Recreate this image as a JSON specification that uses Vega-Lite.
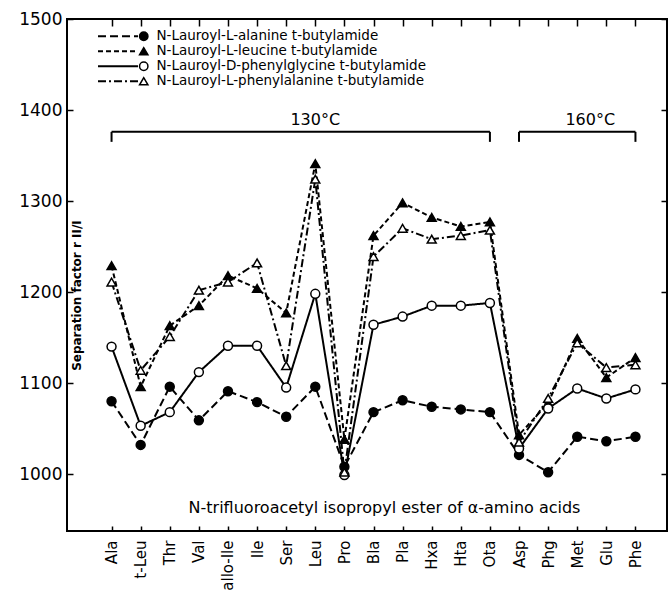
{
  "$schema": "https://vega.github.io/schema/vega-lite/v6.json",
  "width": 600,
  "height": 512,
  "autosize": {"type": "none"},
  "padding": {"left": 67, "top": 19, "right": 2, "bottom": 68},
  "background": "white",
  "config": {
    "view": {"stroke": "black", "strokeWidth": 2},
    "font": "DejaVu Sans",
    "axis": {"labelColor": "black", "titleColor": "black", "tickColor": "black", "labelFont": "DejaVu Sans", "titleFont": "DejaVu Sans"},
    "legend": {"labelColor": "black", "labelFont": "DejaVu Sans"}
  },
  "datasets": {
    "sep": [
      {"aa": "Ala", "series": "N-Lauroyl-L-alanine t-butylamide", "r": 1080},
      {"aa": "t-Leu", "series": "N-Lauroyl-L-alanine t-butylamide", "r": 1032},
      {"aa": "Thr", "series": "N-Lauroyl-L-alanine t-butylamide", "r": 1096},
      {"aa": "Val", "series": "N-Lauroyl-L-alanine t-butylamide", "r": 1059},
      {"aa": "allo-Ile", "series": "N-Lauroyl-L-alanine t-butylamide", "r": 1091},
      {"aa": "Ile", "series": "N-Lauroyl-L-alanine t-butylamide", "r": 1079},
      {"aa": "Ser", "series": "N-Lauroyl-L-alanine t-butylamide", "r": 1063},
      {"aa": "Leu", "series": "N-Lauroyl-L-alanine t-butylamide", "r": 1096},
      {"aa": "Pro", "series": "N-Lauroyl-L-alanine t-butylamide", "r": 1008},
      {"aa": "Bla", "series": "N-Lauroyl-L-alanine t-butylamide", "r": 1068},
      {"aa": "Pla", "series": "N-Lauroyl-L-alanine t-butylamide", "r": 1081},
      {"aa": "Hxa", "series": "N-Lauroyl-L-alanine t-butylamide", "r": 1074},
      {"aa": "Hta", "series": "N-Lauroyl-L-alanine t-butylamide", "r": 1071},
      {"aa": "Ota", "series": "N-Lauroyl-L-alanine t-butylamide", "r": 1068},
      {"aa": "Asp", "series": "N-Lauroyl-L-alanine t-butylamide", "r": 1021},
      {"aa": "Phg", "series": "N-Lauroyl-L-alanine t-butylamide", "r": 1002},
      {"aa": "Met", "series": "N-Lauroyl-L-alanine t-butylamide", "r": 1041},
      {"aa": "Glu", "series": "N-Lauroyl-L-alanine t-butylamide", "r": 1036},
      {"aa": "Phe", "series": "N-Lauroyl-L-alanine t-butylamide", "r": 1041},

      {"aa": "Ala", "series": "N-Lauroyl-L-leucine t-butylamide", "r": 1229},
      {"aa": "t-Leu", "series": "N-Lauroyl-L-leucine t-butylamide", "r": 1096},
      {"aa": "Thr", "series": "N-Lauroyl-L-leucine t-butylamide", "r": 1163},
      {"aa": "Val", "series": "N-Lauroyl-L-leucine t-butylamide", "r": 1185},
      {"aa": "allo-Ile", "series": "N-Lauroyl-L-leucine t-butylamide", "r": 1218},
      {"aa": "Ile", "series": "N-Lauroyl-L-leucine t-butylamide", "r": 1204},
      {"aa": "Ser", "series": "N-Lauroyl-L-leucine t-butylamide", "r": 1177},
      {"aa": "Leu", "series": "N-Lauroyl-L-leucine t-butylamide", "r": 1341},
      {"aa": "Pro", "series": "N-Lauroyl-L-leucine t-butylamide", "r": 1038},
      {"aa": "Bla", "series": "N-Lauroyl-L-leucine t-butylamide", "r": 1262},
      {"aa": "Pla", "series": "N-Lauroyl-L-leucine t-butylamide", "r": 1298},
      {"aa": "Hxa", "series": "N-Lauroyl-L-leucine t-butylamide", "r": 1282},
      {"aa": "Hta", "series": "N-Lauroyl-L-leucine t-butylamide", "r": 1272},
      {"aa": "Ota", "series": "N-Lauroyl-L-leucine t-butylamide", "r": 1277},
      {"aa": "Asp", "series": "N-Lauroyl-L-leucine t-butylamide", "r": 1043},
      {"aa": "Phg", "series": "N-Lauroyl-L-leucine t-butylamide", "r": 1078},
      {"aa": "Met", "series": "N-Lauroyl-L-leucine t-butylamide", "r": 1149},
      {"aa": "Glu", "series": "N-Lauroyl-L-leucine t-butylamide", "r": 1106},
      {"aa": "Phe", "series": "N-Lauroyl-L-leucine t-butylamide", "r": 1128},

      {"aa": "Ala", "series": "N-Lauroyl-D-phenylglycine t-butylamide", "r": 1140},
      {"aa": "t-Leu", "series": "N-Lauroyl-D-phenylglycine t-butylamide", "r": 1053},
      {"aa": "Thr", "series": "N-Lauroyl-D-phenylglycine t-butylamide", "r": 1068},
      {"aa": "Val", "series": "N-Lauroyl-D-phenylglycine t-butylamide", "r": 1112},
      {"aa": "allo-Ile", "series": "N-Lauroyl-D-phenylglycine t-butylamide", "r": 1141},
      {"aa": "Ile", "series": "N-Lauroyl-D-phenylglycine t-butylamide", "r": 1141},
      {"aa": "Ser", "series": "N-Lauroyl-D-phenylglycine t-butylamide", "r": 1095},
      {"aa": "Leu", "series": "N-Lauroyl-D-phenylglycine t-butylamide", "r": 1198},
      {"aa": "Pro", "series": "N-Lauroyl-D-phenylglycine t-butylamide", "r": 999},
      {"aa": "Bla", "series": "N-Lauroyl-D-phenylglycine t-butylamide", "r": 1164},
      {"aa": "Pla", "series": "N-Lauroyl-D-phenylglycine t-butylamide", "r": 1173},
      {"aa": "Hxa", "series": "N-Lauroyl-D-phenylglycine t-butylamide", "r": 1185},
      {"aa": "Hta", "series": "N-Lauroyl-D-phenylglycine t-butylamide", "r": 1185},
      {"aa": "Ota", "series": "N-Lauroyl-D-phenylglycine t-butylamide", "r": 1188},
      {"aa": "Asp", "series": "N-Lauroyl-D-phenylglycine t-butylamide", "r": 1028},
      {"aa": "Phg", "series": "N-Lauroyl-D-phenylglycine t-butylamide", "r": 1072},
      {"aa": "Met", "series": "N-Lauroyl-D-phenylglycine t-butylamide", "r": 1094},
      {"aa": "Glu", "series": "N-Lauroyl-D-phenylglycine t-butylamide", "r": 1083},
      {"aa": "Phe", "series": "N-Lauroyl-D-phenylglycine t-butylamide", "r": 1093},

      {"aa": "Ala", "series": "N-Lauroyl-L-phenylalanine t-butylamide", "r": 1211},
      {"aa": "t-Leu", "series": "N-Lauroyl-L-phenylalanine t-butylamide", "r": 1114},
      {"aa": "Thr", "series": "N-Lauroyl-L-phenylalanine t-butylamide", "r": 1151},
      {"aa": "Val", "series": "N-Lauroyl-L-phenylalanine t-butylamide", "r": 1202},
      {"aa": "allo-Ile", "series": "N-Lauroyl-L-phenylalanine t-butylamide", "r": 1211},
      {"aa": "Ile", "series": "N-Lauroyl-L-phenylalanine t-butylamide", "r": 1232},
      {"aa": "Ser", "series": "N-Lauroyl-L-phenylalanine t-butylamide", "r": 1119},
      {"aa": "Leu", "series": "N-Lauroyl-L-phenylalanine t-butylamide", "r": 1324},
      {"aa": "Pro", "series": "N-Lauroyl-L-phenylalanine t-butylamide", "r": 1002},
      {"aa": "Bla", "series": "N-Lauroyl-L-phenylalanine t-butylamide", "r": 1239},
      {"aa": "Pla", "series": "N-Lauroyl-L-phenylalanine t-butylamide", "r": 1270},
      {"aa": "Hxa", "series": "N-Lauroyl-L-phenylalanine t-butylamide", "r": 1258},
      {"aa": "Hta", "series": "N-Lauroyl-L-phenylalanine t-butylamide", "r": 1262},
      {"aa": "Ota", "series": "N-Lauroyl-L-phenylalanine t-butylamide", "r": 1268},
      {"aa": "Asp", "series": "N-Lauroyl-L-phenylalanine t-butylamide", "r": 1035},
      {"aa": "Phg", "series": "N-Lauroyl-L-phenylalanine t-butylamide", "r": 1083},
      {"aa": "Met", "series": "N-Lauroyl-L-phenylalanine t-butylamide", "r": 1144},
      {"aa": "Glu", "series": "N-Lauroyl-L-phenylalanine t-butylamide", "r": 1117},
      {"aa": "Phe", "series": "N-Lauroyl-L-phenylalanine t-butylamide", "r": 1120}
    ]
  },
  "layer": [
    {
      "data": {"name": "sep"},
      "mark": {"type": "line", "stroke": "black", "strokeWidth": 2},
      "encoding": {
        "x": {
          "field": "aa", "type": "nominal",
          "scale": {"type": "point", "domain": ["Ala", "t-Leu", "Thr", "Val", "allo-Ile", "Ile", "Ser", "Leu", "Pro", "Bla", "Pla", "Hxa", "Hta", "Ota", "Asp", "Phg", "Met", "Glu", "Phe"], "range": [30, 583]},
          "axis": {
            "orient": "bottom", "domain": false, "grid": false,
            "labelAngle": 270, "labelFontSize": 15, "labelPadding": 14,
            "tickSize": -5, "tickWidth": 1.5,
            "title": "N-trifluoroacetyl isopropyl ester of α-amino acids",
            "titleX": 317, "titleY": -24, "titleAlign": "center", "titleBaseline": "middle",
            "titleFontSize": 16, "titleFontWeight": "normal", "titleAngle": 0
          }
        },
        "y": {
          "field": "r", "type": "quantitative",
          "scale": {"domain": [937.4, 1500], "nice": false, "zero": false},
          "axis": {
            "orient": "left", "values": [1000, 1100, 1200, 1300, 1400, 1500], "format": "d",
            "domain": false, "grid": false, "labelFontSize": 17, "labelPadding": 11,
            "tickSize": -6, "tickWidth": 1.5,
            "title": "Separation factor r II/I", "titleX": 4, "titleY": 276, "titleAngle": 270,
            "titleAlign": "center", "titleBaseline": "top", "titleFontSize": 12, "titleFontWeight": "bold"
          }
        },
        "detail": {"field": "series"},
        "strokeDash": {
          "field": "series", "type": "nominal",
          "sort": ["N-Lauroyl-L-alanine t-butylamide", "N-Lauroyl-L-leucine t-butylamide", "N-Lauroyl-D-phenylglycine t-butylamide", "N-Lauroyl-L-phenylalanine t-butylamide"],
          "scale": {"range": [[8, 4], [5, 3], [1, 0], [8, 3, 2, 3]]},
          "legend": {
            "orient": "none", "legendX": 30, "legendY": 10, "title": null, "padding": 0,
            "symbolType": "stroke", "symbolSize": 1600, "symbolStrokeWidth": 1.8, "symbolStrokeColor": "black",
            "clipHeight": 14.5, "rowPadding": 0, "labelExpr": "''"
          }
        }
      }
    },
    {
      "data": {"name": "sep"},
      "mark": {"type": "point", "filled": true, "size": 80, "strokeWidth": 1.5, "opacity": 1},
      "encoding": {
        "x": {"field": "aa", "type": "nominal", "axis": {"orient": "top", "labels": false, "title": null, "domain": false, "tickSize": -7, "tickWidth": 1.5}},
        "y": {"field": "r", "type": "quantitative", "axis": {"orient": "right", "labels": false, "title": null, "domain": false, "grid": false, "values": [1000, 1100, 1200, 1300, 1400, 1500], "tickSize": -6, "tickWidth": 1.5}},
        "shape": {
          "field": "series", "type": "nominal",
          "scale": {"domain": ["N-Lauroyl-L-alanine t-butylamide", "N-Lauroyl-L-leucine t-butylamide", "N-Lauroyl-D-phenylglycine t-butylamide", "N-Lauroyl-L-phenylalanine t-butylamide"], "range": ["circle", "triangle-up", "circle", "triangle-up"]},
          "legend": {
            "orient": "none", "legendX": 70, "legendY": 10, "title": null, "padding": 0,
            "symbolSize": 70, "symbolStrokeWidth": 1.5,
            "clipHeight": 14.5, "rowPadding": 0, "labelFontSize": 13.5, "labelLimit": 500, "labelOffset": 6
          }
        },
        "fill": {
          "field": "series", "type": "nominal",
          "scale": {"domain": ["N-Lauroyl-L-alanine t-butylamide", "N-Lauroyl-L-leucine t-butylamide", "N-Lauroyl-D-phenylglycine t-butylamide", "N-Lauroyl-L-phenylalanine t-butylamide"], "range": ["black", "black", "white", "white"]},
          "legend": {
            "orient": "none", "legendX": 70, "legendY": 10, "title": null, "padding": 0,
            "symbolSize": 70, "symbolStrokeWidth": 1.5,
            "clipHeight": 14.5, "rowPadding": 0, "labelFontSize": 13.5, "labelLimit": 500, "labelOffset": 6
          }
        },
        "stroke": {
          "field": "series", "type": "nominal",
          "scale": {"domain": ["N-Lauroyl-L-alanine t-butylamide", "N-Lauroyl-L-leucine t-butylamide", "N-Lauroyl-D-phenylglycine t-butylamide", "N-Lauroyl-L-phenylalanine t-butylamide"], "range": ["black", "black", "black", "black"]},
          "legend": {
            "orient": "none", "legendX": 70, "legendY": 10, "title": null, "padding": 0,
            "symbolSize": 70, "symbolStrokeWidth": 1.5,
            "clipHeight": 14.5, "rowPadding": 0, "labelFontSize": 13.5, "labelLimit": 500, "labelOffset": 6
          }
        }
      }
    },
    {
      "data": {"values": [{"from": "Ala", "to": "Ota"}, {"from": "Asp", "to": "Phe"}]},
      "mark": {"type": "rule", "stroke": "black", "strokeWidth": 2},
      "encoding": {
        "x": {"field": "from", "type": "nominal", "axis": null},
        "x2": {"field": "to"},
        "y": {"datum": 1376, "axis": null}
      }
    },
    {
      "data": {"values": [{"at": "Ala"}, {"at": "Ota"}, {"at": "Asp"}, {"at": "Phe"}]},
      "mark": {"type": "rule", "stroke": "black", "strokeWidth": 2},
      "encoding": {
        "x": {"field": "at", "type": "nominal", "axis": null},
        "y": {"datum": 1376, "axis": null},
        "y2": {"datum": 1365}
      }
    },
    {
      "data": {"values": [{"label": "130°C", "at": "Leu"}]},
      "mark": {"type": "text", "fontSize": 16, "color": "black", "baseline": "middle", "align": "center"},
      "encoding": {
        "x": {"field": "at", "type": "nominal", "axis": null},
        "y": {"datum": 1389, "axis": null},
        "text": {"field": "label"}
      }
    },
    {
      "data": {"values": [{"label": "160°C", "at": "Met"}]},
      "mark": {"type": "text", "fontSize": 16, "color": "black", "baseline": "middle", "align": "center", "dx": 13},
      "encoding": {
        "x": {"field": "at", "type": "nominal", "axis": null},
        "y": {"datum": 1389, "axis": null},
        "text": {"field": "label"}
      }
    }
  ]
}
